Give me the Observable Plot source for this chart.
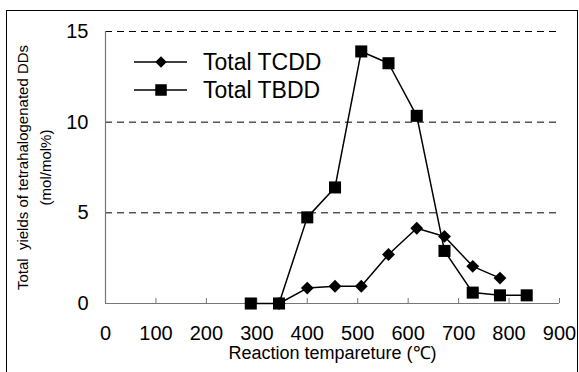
<!DOCTYPE html>
<html><head><meta charset="utf-8">
<script src="https://cdn.jsdelivr.net/npm/d3@7"></script>
<script src="https://cdn.jsdelivr.net/npm/@observablehq/plot@0.6"></script>
<style>
body{margin:0;background:#fff;overflow:hidden;font-family:"Liberation Sans",Arial,sans-serif;}
#wrap{position:relative;width:579px;height:372px;overflow:hidden;}
#frame{position:absolute;left:6px;top:10px;width:570px;height:380px;border:1px solid #000;pointer-events:none;}
#legend{position:absolute;left:134px;top:48px;font-size:23px;color:#000;}
#legend .row{display:flex;align-items:center;height:28px;}
#legend svg{display:block;margin-right:16px;}
</style></head><body>
<div id="wrap"><div id="chart"></div><div id="frame"></div><div id="legend"></div></div>
<script>
// Data
const temperatures = [288, 344, 400, 455, 507, 561, 617, 672, 728, 782, 835];
const tbdd = [0, 0, 4.75, 6.4, 13.9, 13.25, 10.35, 2.9, 0.6, 0.45, 0.45];
const tcddTemperatures = [344, 400, 455, 507, 561, 617, 672, 728, 782];
const tcdd = [0, 0.85, 0.95, 0.95, 2.7, 4.15, 3.7, 2.05, 1.4];
const seriesNames = ["Total TCDD", "Total TBDD"];
const xTicks = [0, 100, 200, 300, 400, 500, 600, 700, 800, 900];
const yTicks = [0, 5, 10, 15];
const gridValues = [5, 10, 15];
const xLabel = "Reaction tempareture (\u2103)";
const yLabelLines = ["Total\u00a0 yields of tetrahalogenated DDs", "(mol/mol%)"];

const tcddData = tcddTemperatures.map((t, i) => ({t, v: tcdd[i]}));
const tbddData = temperatures.map((t, i) => ({t, v: tbdd[i]}));

const font = '"Liberation Sans", Arial, sans-serif';
const plot = Plot.plot({
  width: 579, height: 372,
  marginLeft: 105, marginRight: 20, marginTop: 31, marginBottom: 69,
  style: {fontFamily: font, fontSize: "20px", color: "#000", background: "transparent"},
  x: {domain: [0, 900]},
  y: {domain: [0, 15]},
  marks: [
    Plot.ruleY(gridValues, {stroke: "#000", strokeDasharray: "7,5", strokeWidth: 1}),
    Plot.ruleX([0], {stroke: "#777", strokeWidth: 1.2}),
    Plot.ruleY([0], {stroke: "#777", strokeWidth: 1.2}),
    Plot.axisX({ticks: xTicks, tickSize: -5, tickPadding: 27, stroke: "#777", fontSize: 20, label: null}),
    Plot.axisY({ticks: yTicks, tickSize: 0, tickPadding: 17, fontSize: 20, label: null}),
    Plot.text([xLabel], {text: d => d, frameAnchor: "bottom", dy: 50, fontSize: 18, lineAnchor: "middle"}),
    Plot.text([yLabelLines.join("\n")], {text: d => d, frameAnchor: "left", dx: -73, rotate: -90, fontSize: 15, lineHeight: 1.5, lineAnchor: "middle", textAnchor: "middle"}),
    Plot.line(tcddData, {x: "t", y: "v", stroke: "#000", strokeWidth: 1.5}),
    Plot.line(tbddData, {x: "t", y: "v", stroke: "#000", strokeWidth: 1.5}),
    Plot.dot(tcddData, {x: "t", y: "v", symbol: "diamond2", r: 5.8, fill: "#000", stroke: null}),
    Plot.dot(tbddData, {x: "t", y: "v", symbol: "square", r: 6.8, fill: "#000", stroke: null})
  ]
});
document.getElementById("chart").appendChild(plot);

// Legend
const symbols = [d3.symbolDiamond2, d3.symbolSquare];
const sizes = [Math.PI * 5.2 * 5.2, Math.PI * 6.5 * 6.5];
const legend = d3.select("#legend");
seriesNames.forEach((name, i) => {
  const row = legend.append("div").attr("class", "row");
  const svg = row.append("svg").attr("width", 53).attr("height", 20);
  svg.append("line").attr("x1", 0).attr("x2", 53).attr("y1", 10).attr("y2", 10).attr("stroke", "#000").attr("stroke-width", 1.5);
  svg.append("path").attr("d", d3.symbol(symbols[i], sizes[i])()).attr("transform", "translate(27,10)").attr("fill", "#000");
  row.append("span").text(name);
});
</script>
</body></html>
